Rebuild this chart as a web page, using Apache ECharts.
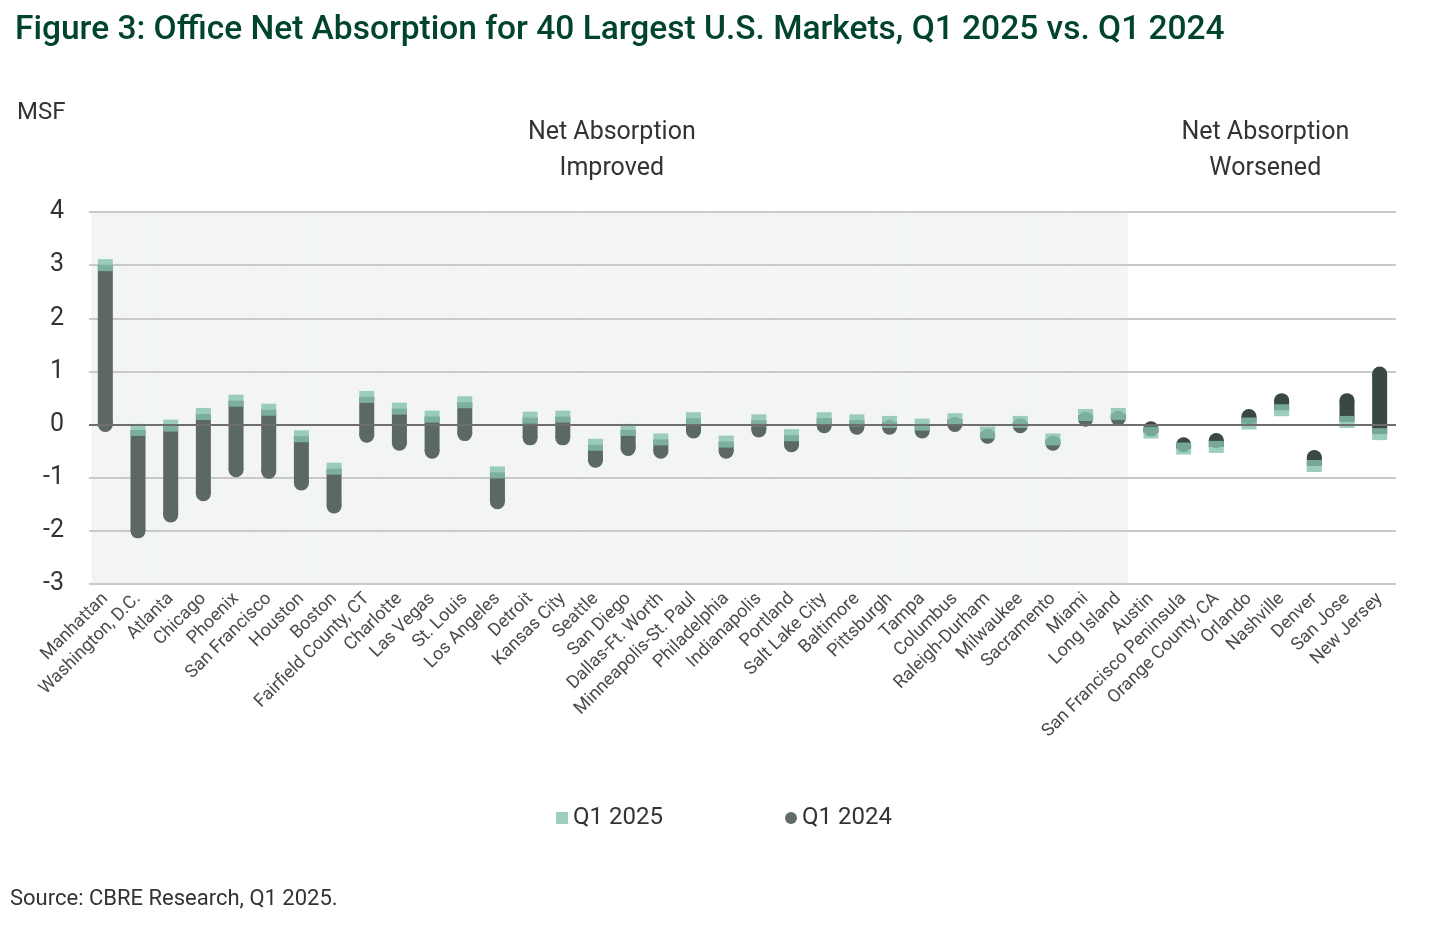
<!DOCTYPE html>
<html><head><meta charset="utf-8">
<script src="https://cdn.jsdelivr.net/npm/echarts@6/dist/echarts.min.js"></script>
<style>html,body{margin:0;padding:0;background:#fff}#c{width:1448px;height:936px}</style>
</head><body><div id="c"></div>
<script>
const markets = ['Manhattan','Washington, D.C.','Atlanta','Chicago','Phoenix','San Francisco','Houston','Boston','Fairfield County, CT','Charlotte','Las Vegas','St. Louis','Los Angeles','Detroit','Kansas City','Seattle','San Diego','Dallas-Ft. Worth','Minneapolis-St. Paul','Philadelphia','Indianapolis','Portland','Salt Lake City','Baltimore','Pittsburgh','Tampa','Columbus','Raleigh-Durham','Milwaukee','Sacramento','Miami','Long Island','Austin','San Francisco Peninsula','Orange County, CA','Orlando','Nashville','Denver','San Jose','New Jersey'];
const q1_2025 = [3.0,-0.1,-0.02,0.2,0.45,0.28,-0.22,-0.83,0.52,0.3,0.15,0.42,-0.9,0.13,0.15,-0.38,-0.1,-0.28,0.12,-0.32,0.08,-0.2,0.12,0.08,0.05,0.0,0.1,-0.15,0.05,-0.28,0.18,0.2,-0.15,-0.45,-0.42,0.02,0.27,-0.78,0.05,-0.18];
const q1_2024 = [0.0,-2.0,-1.7,-1.3,-0.85,-0.88,-1.1,-1.53,-0.2,-0.35,-0.5,-0.17,-1.45,-0.25,-0.25,-0.67,-0.45,-0.5,-0.12,-0.5,-0.1,-0.38,-0.02,-0.05,-0.05,-0.12,0.0,-0.22,-0.02,-0.35,0.1,0.12,-0.08,-0.38,-0.3,0.15,0.45,-0.62,0.45,0.95];
const yMin = -3, yMax = 4, yStep = 1;
const groupLabels = ['Net Absorption\nImproved','Net Absorption\nWorsened'];

const TEAL = '#84c0aa', BAR_IMP = '#5b6866', BAR_WORSE = '#394745', SHADE = '#f3f5f5';
const rows = markets.map((m,i)=>[i, q1_2024[i], q1_2025[i]]);
const improved = i => q1_2025[i] > q1_2024[i];
const lastImproved = markets.reduce((acc,m,i)=>improved(i)?i:acc, 0);

const chart = echarts.init(document.getElementById('c'));
const FONT = 'Roboto';
chart.setOption({
  animation:false,
  textStyle:{fontFamily:FONT},
  title:{text:'Figure 3: Office Net Absorption for 40 Largest U.S. Markets, Q1 2025 vs. Q1 2024',left:10,top:9,
    textStyle:{fontFamily:FONT,fontSize:33.5,fontWeight:500,color:'#00432e'}},
  grid:{left:89,right:52,top:212,bottom:352,containLabel:false},
  legend:{data:['Q1 2025','Q1 2024'],
    left:'center',top:801,itemGap:122,itemWidth:12,itemHeight:12,
    textStyle:{fontSize:24,color:'#333',fontFamily:FONT}},
  graphic:[
    {type:'text',left:17,top:101,style:{text:'MSF',fontSize:24,fill:'#333',fontFamily:FONT}},
    {type:'text',left:10,top:888,style:{text:'Source: CBRE Research, Q1 2025.',fontSize:22,fill:'#333',fontFamily:FONT}}
  ],
  xAxis:{type:'category',data:markets,boundaryGap:true,
    axisLine:{show:false},axisTick:{show:false},
    axisLabel:{interval:0,rotate:45,fontSize:18,color:'#4a4a4a',margin:12,fontFamily:FONT}},
  yAxis:{type:'value',min:yMin,max:yMax,interval:yStep,
    axisLine:{show:false},axisTick:{show:false},
    axisLabel:{fontSize:25,color:'#333',margin:25,fontFamily:FONT},
    splitLine:{lineStyle:{color:'#c9c9c9',width:2}}},
  series:[
    {type:'custom',name:'shade',z:-10,silent:true,data:rows,
     renderItem:(params,api)=>{
       const i=api.value(0);
       if(!improved(i)) return null;
       const cs=params.coordSys;
       const bw=api.size([1,0])[0];
       const c=api.coord([i,0]);
       const right = i===lastImproved ? c[0]+bw/2-7 : c[0]+bw/2;
       const left = i===0 ? c[0]-bw/2+3 : c[0]-bw/2;
       return {type:'rect',shape:{x:left,y:cs.y,width:right-left,height:cs.height},
         style:{fill:SHADE,stroke:SHADE,lineWidth:1}};
     },
     markArea:{silent:true,itemStyle:{color:'rgba(0,0,0,0)'},
       label:{show:true,position:'insideTop',distance:-97,fontSize:25,color:'#333',lineHeight:36,fontFamily:FONT},
       data:[[{name:groupLabels[0],xAxis:markets[0],yAxis:yMax},{xAxis:markets[lastImproved],yAxis:yMax-0.01}],
             [{name:groupLabels[1],xAxis:markets[lastImproved+1],yAxis:yMax},{xAxis:markets[markets.length-1],yAxis:yMax-0.01}]]}
    },
    {type:'scatter',name:'Q1 2024',z:2,symbol:'circle',symbolSize:14,
     itemStyle:{color:BAR_WORSE},
     data:q1_2024.map((v,i)=>[i,v])},
    {type:'custom',name:'range',z:3,silent:true,data:rows,
     renderItem:(params,api)=>{
       const i=api.value(0);
       const a=api.coord([i,api.value(1)]);
       const b=api.coord([i,api.value(2)]);
       const w=15;
       const col=improved(i)?BAR_IMP:BAR_WORSE;
       const top=Math.min(a[1],b[1]), h=Math.abs(a[1]-b[1]);
       return {type:'group',children:[
         {type:'rect',shape:{x:a[0]-w/2,y:top,width:w,height:h},style:{fill:col}},
         {type:'circle',shape:{cx:a[0],cy:a[1],r:w/2},style:{fill:col}}
       ]};
     },
     markLine:{silent:true,symbol:'none',label:{show:false},lineStyle:{color:'#6e6e6e',width:2,type:'solid'},
       data:[{yAxis:0}]}
    },
    {type:'scatter',name:'Q1 2025',z:4,symbol:'rect',symbolSize:[15,12],
     itemStyle:{color:TEAL},
     data:q1_2025.map((v,i)=>[i,v])}
  ]
});
</script></body></html>
